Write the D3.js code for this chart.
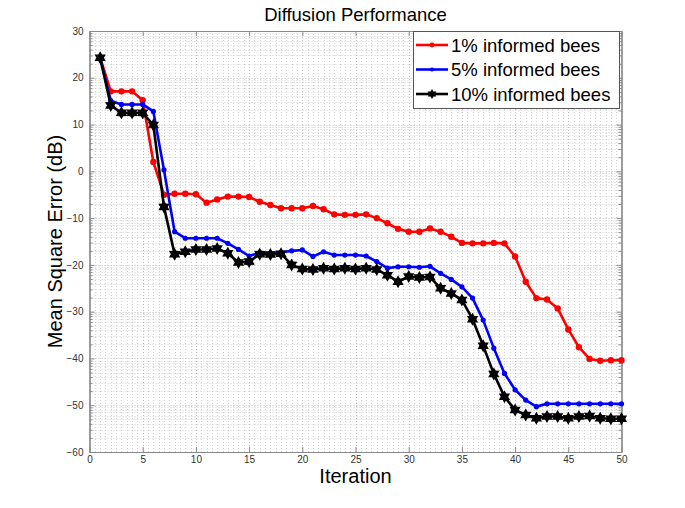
<!DOCTYPE html>
<html><head><meta charset="utf-8">
<script src="https://cdn.jsdelivr.net/npm/d3@7"></script>
<style>body{margin:0;background:#fff}svg{display:block;font-family:"Liberation Sans",Arial,sans-serif}</style>
</head><body><svg id="c" width="685" height="508"></svg>
<script>
const iterations = d3.range(1, 51);
const series1 = [24.3,17.1,17.1,17.1,15.2,2.0,-5.0,-4.8,-4.8,-4.9,-6.7,-6.0,-5.4,-5.4,-5.5,-6.5,-7.2,-7.9,-7.9,-7.9,-7.4,-8.1,-9.2,-9.3,-9.3,-9.2,-10.0,-11.1,-12.3,-12.9,-12.9,-12.2,-12.9,-14.0,-15.3,-15.4,-15.4,-15.3,-15.4,-18.2,-23.6,-27.1,-27.4,-29.3,-33.8,-37.6,-40.1,-40.5,-40.4,-40.4];
const series5 = [24.3,15.1,14.3,14.3,14.3,12.8,0.3,-12.9,-14.3,-14.3,-14.3,-14.3,-15.4,-16.7,-18.1,-17.4,-17.5,-17.3,-17.0,-16.8,-18.2,-17.2,-17.9,-17.9,-17.9,-18.1,-19.3,-20.7,-20.4,-20.4,-20.5,-20.3,-21.8,-23.1,-24.7,-27.1,-31.8,-37.8,-43.2,-46.7,-48.9,-50.3,-49.7,-49.7,-49.7,-49.7,-49.7,-49.7,-49.7,-49.7];
const series10 = [24.3,14.1,12.5,12.5,12.5,9.9,-7.6,-17.7,-17.2,-16.7,-16.7,-16.5,-17.5,-19.5,-19.3,-17.7,-17.8,-17.6,-20.0,-20.9,-21.0,-20.7,-20.9,-20.7,-20.9,-20.7,-21.0,-22.2,-23.6,-22.5,-22.7,-22.6,-25.0,-26.1,-27.5,-31.6,-37.3,-43.3,-48.2,-51.0,-52.1,-52.8,-52.4,-52.4,-52.8,-52.4,-52.3,-52.8,-52.9,-52.9];
const seriesNames = ["1% informed bees","5% informed bees","10% informed bees"];
const seriesColors = ["#ff0000","#0000ff","#000000"];
const xTicks = [0,5,10,15,20,25,30,35,40,45,50];
const yTicks = [30,20,10,0,-10,-20,-30,-40,-50,-60];

const svg = d3.select("#c");
const L = 89.5, R = 621.5, T = 31, B = 452;
const x = d3.scaleLinear().domain([0,50]).range([L,R]);
const y = d3.scaleLinear().domain([-60,30]).range([B,T]);
const axisCol = "#8a8a8a";

// minor grid
const gMinor = svg.append("g").attr("stroke","#d2d2d2").attr("stroke-width",1).attr("stroke-dasharray","1,2");
const xMinor = d3.range(0.5,50,0.5).filter(v => v % 5 !== 0);
gMinor.selectAll("line.xm").data(xMinor).join("line")
  .attr("x1",d=>Math.round(x(d))+0.5).attr("x2",d=>Math.round(x(d))+0.5).attr("y1",T).attr("y2",B);
const yMinor = [];
for (let lo=-60; lo<30; lo+=10) for (let k=2;k<=9;k++) yMinor.push(lo+10*Math.log10(k));
gMinor.selectAll("line.ym").data(yMinor).join("line")
  .attr("y1",d=>Math.round(y(d))+0.5).attr("y2",d=>Math.round(y(d))+0.5).attr("x1",L).attr("x2",R);
// major grid
const gMajor = svg.append("g").attr("stroke","#bcbcbc").attr("stroke-width",1).attr("stroke-dasharray","1,2");
gMajor.selectAll("line.xg").data(xTicks.slice(1,-1)).join("line")
  .attr("x1",d=>Math.round(x(d))+0.5).attr("x2",d=>Math.round(x(d))+0.5).attr("y1",T).attr("y2",B);
gMajor.selectAll("line.yg").data(yTicks.slice(1,-1)).join("line")
  .attr("y1",d=>Math.round(y(d))+0.5).attr("y2",d=>Math.round(y(d))+0.5).attr("x1",L).attr("x2",R);

// axes
const fmt = d => d < 0 ? "\u2212" + Math.abs(d) : String(d);
const ax = svg.append("g").attr("transform",`translate(0,${B})`)
  .call(d3.axisBottom(x).tickValues(xTicks).tickFormat(fmt).tickSizeInner(-5).tickSizeOuter(0).tickPadding(4));
const ay = svg.append("g").attr("transform",`translate(${L},0)`)
  .call(d3.axisLeft(y).tickValues(yTicks).tickFormat(fmt).tickSizeInner(-5).tickSizeOuter(0).tickPadding(6));
const axTop = svg.append("g").attr("transform",`translate(0,${T})`)
  .call(d3.axisTop(x).tickValues(xTicks).tickFormat("").tickSizeInner(-5).tickSizeOuter(0));
const ayR = svg.append("g").attr("transform",`translate(${R},0)`)
  .call(d3.axisRight(y).tickValues(yTicks).tickFormat("").tickSizeInner(-5).tickSizeOuter(0));
const ayMinor = svg.append("g").attr("transform",`translate(${L},0)`)
  .call(d3.axisLeft(y).tickValues(yMinor).tickFormat("").tickSizeInner(-3).tickSizeOuter(0));
const ayMinorR = svg.append("g").attr("transform",`translate(${R},0)`)
  .call(d3.axisRight(y).tickValues(yMinor).tickFormat("").tickSizeInner(-3).tickSizeOuter(0));
[ax,ay,axTop,ayR,ayMinor,ayMinorR].forEach(g=>{
  g.selectAll("path,line").attr("stroke",axisCol);
  g.selectAll("path").attr("stroke-width",1.2);
  g.selectAll("text").attr("fill","#333").attr("font-size",10).attr("font-family","Liberation Sans, Arial, sans-serif");
});

// lines
const data = [series1, series5, series10];
const line = d3.line().x((d,i)=>x(iterations[i])).y(d=>y(d));
const hexagram = (r) => {
  const pts=[]; for(let i=0;i<12;i++){const a=Math.PI/6*i - Math.PI/2; const rr = i%2===0? r : r*0.58; pts.push([rr*Math.cos(a), rr*Math.sin(a)]);}
  return "M"+pts.map(p=>p.join(",")).join("L")+"Z";
};
data.forEach((s,k)=>{
  const g = svg.append("g");
  g.append("path").datum(s).attr("d",line).attr("fill","none").attr("stroke",seriesColors[k]).attr("stroke-width",2.6).attr("stroke-linejoin","round");
  if (k<2) {
    g.selectAll("circle").data(s).join("circle").attr("cx",(d,i)=>x(iterations[i])).attr("cy",d=>y(d)).attr("r",k===0?3.2:2.6).attr("fill",seriesColors[k]);
  } else {
    g.selectAll("path.m").data(s).join("path").attr("class","m")
      .attr("transform",(d,i)=>`translate(${x(iterations[i])},${y(d)})`).attr("d",hexagram(6.5)).attr("fill","#000");
  }
});

// title and labels
svg.append("text").attr("x",(L+R)/2).attr("y",21).attr("text-anchor","middle").attr("font-size",18.5).attr("fill","#000").text("Diffusion Performance");
svg.append("text").attr("x",(L+R)/2).attr("y",483).attr("text-anchor","middle").attr("font-size",20).attr("fill","#000").text("Iteration");
svg.append("text").attr("transform",`translate(62,${(T+B)/2}) rotate(-90)`).attr("text-anchor","middle").attr("font-size",20).attr("fill","#000").text("Mean Square Error (dB)");

// legend
const lg = svg.append("g");
lg.append("rect").attr("x",413.5).attr("y",31.5).attr("width",206).attr("height",77).attr("fill","#fff").attr("stroke","#555").attr("stroke-width",1);
seriesNames.forEach((n,k)=>{
  const yy = 45 + k*24.5;
  lg.append("line").attr("x1",416).attr("x2",448).attr("y1",yy).attr("y2",yy).attr("stroke",seriesColors[k]).attr("stroke-width",2.6);
  if (k<2) lg.append("circle").attr("cx",432).attr("cy",yy).attr("r",k===0?2.4:2).attr("fill",seriesColors[k]);
  else lg.append("path").attr("transform",`translate(432,${yy})`).attr("d",hexagram(5)).attr("fill","#000");
  lg.append("text").attr("x",451).attr("y",yy+6.5).attr("font-size",18.5).attr("fill","#000").text(n);
});
</script></body></html>
